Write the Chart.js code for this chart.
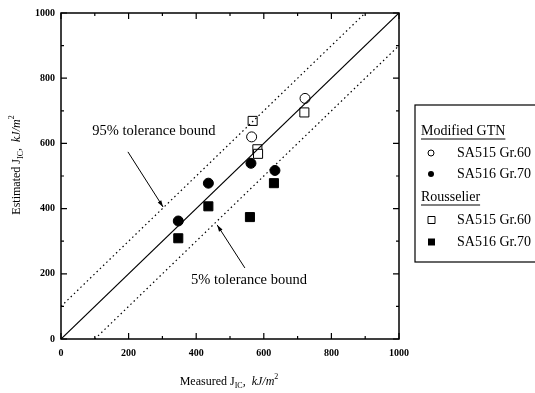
<!DOCTYPE html>
<html>
<head>
<meta charset="utf-8">
<script src="https://cdn.jsdelivr.net/npm/chart.js@4"></script>
<style>
  html, body { margin: 0; padding: 0; background: #fff; }
  #wrap { width: 535px; height: 393px; position: relative; }
</style>
</head>
<body>
<div id="wrap"><canvas id="jic-chart"></canvas></div>
<script>
// Measured vs estimated J_IC (kJ/m^2)
const gtn515X = [564, 722];
const gtn515Y = [620, 738];
const gtn516X = [347, 436, 562, 633];
const gtn516Y = [362, 478, 539, 517];
const rou515X = [567, 581, 583, 720];
const rou515Y = [669, 582, 568, 695];
const rou516X = [347, 436, 559, 630];
const rou516Y = [309, 407, 374, 478];
const tickValues = [0, 200, 400, 600, 800, 1000];

const toPts = (xs, ys) => xs.map((x, i) => ({ x: x, y: ys[i] }));

const serif = "'Liberation Serif', 'DejaVu Serif', serif";

// inward ticks on all four sides, frame, titles, annotations, legend
const extrasPlugin = {
  id: "extras",
  afterDraw(chart) {
    const ctx = chart.ctx;
    const xs = chart.scales.x;
    const ys = chart.scales.y;
    const a = chart.chartArea;
    ctx.save();
    ctx.strokeStyle = "#000";
    ctx.lineWidth = 1.5;
    ctx.strokeRect(a.left, a.top, a.right - a.left, a.bottom - a.top);
    ctx.lineWidth = 1.2;
    for (let v = 0; v <= 1000; v += 100) {
      const len = v % 200 === 0 ? 6 : 3;
      const px = xs.getPixelForValue(v);
      const py = ys.getPixelForValue(v);
      ctx.beginPath();
      ctx.moveTo(px, a.bottom); ctx.lineTo(px, a.bottom - len);
      ctx.moveTo(px, a.top); ctx.lineTo(px, a.top + len);
      ctx.moveTo(a.left, py); ctx.lineTo(a.left + len, py);
      ctx.moveTo(a.right, py); ctx.lineTo(a.right - len, py);
      ctx.stroke();
    }

    // axis titles with sub/superscripts
    const drawTitle = (parts, cx, cy, rot) => {
      ctx.save();
      ctx.translate(cx, cy);
      ctx.rotate(rot);
      let total = 0;
      parts.forEach(p => { ctx.font = p.font; total += ctx.measureText(p.t).width; });
      let x = -total / 2;
      ctx.textBaseline = "middle";
      ctx.fillStyle = "#000";
      parts.forEach(p => {
        ctx.font = p.font;
        ctx.fillText(p.t, x, p.dy || 0);
        x += ctx.measureText(p.t).width;
      });
      ctx.restore();
    };
    const titleParts = (word) => [
      { t: word + " J", font: "12px " + serif },
      { t: "IC", font: "8px " + serif, dy: 4 },
      { t: ",  ", font: "12px " + serif },
      { t: "kJ/m", font: "italic 12px " + serif },
      { t: "2", font: "8px " + serif, dy: -5 }
    ];
    drawTitle(titleParts("Measured"), 229, 382, 0);
    drawTitle(titleParts("Estimated"), 17, 165, -Math.PI / 2);

    // tolerance bound annotations
    const arrow = (x0, y0, x1, y1) => {
      const p0 = [xs.getPixelForValue(x0), ys.getPixelForValue(y0)];
      const p1 = [xs.getPixelForValue(x1), ys.getPixelForValue(y1)];
      ctx.beginPath();
      ctx.moveTo(p0[0], p0[1]);
      ctx.lineTo(p1[0], p1[1]);
      ctx.lineWidth = 1;
      ctx.stroke();
      const ang = Math.atan2(p1[1] - p0[1], p1[0] - p0[0]);
      ctx.beginPath();
      ctx.moveTo(p1[0], p1[1]);
      ctx.lineTo(p1[0] - 7 * Math.cos(ang - 0.3), p1[1] - 7 * Math.sin(ang - 0.3));
      ctx.lineTo(p1[0] - 7 * Math.cos(ang + 0.3), p1[1] - 7 * Math.sin(ang + 0.3));
      ctx.closePath();
      ctx.fillStyle = "#000";
      ctx.fill();
    };
    ctx.font = "14.5px " + serif;
    ctx.fillStyle = "#000";
    ctx.textAlign = "center";
    ctx.textBaseline = "middle";
    ctx.fillText("95% tolerance bound", xs.getPixelForValue(275), ys.getPixelForValue(636));
    ctx.fillText("5% tolerance bound", xs.getPixelForValue(556), ys.getPixelForValue(181));
    arrow(198, 574, 302, 405);
    arrow(544, 218, 462, 350);

    // legend box
    ctx.textAlign = "left";
    ctx.lineWidth = 1.2;
    ctx.strokeRect(415, 105, 140, 157);
    const rows = [
      { t: "Modified GTN", y: 131, head: true },
      { t: "SA515 Gr.60", y: 153, m: "circle", fill: false },
      { t: "SA516 Gr.70", y: 174, m: "circle", fill: true },
      { t: "Rousselier", y: 197, head: true },
      { t: "SA515 Gr.60", y: 220, m: "rect", fill: false },
      { t: "SA516 Gr.70", y: 242, m: "rect", fill: true }
    ];
    rows.forEach(r => {
      ctx.font = "14px " + serif;
      if (r.head) {
        ctx.fillText(r.t, 421, r.y);
        const w = ctx.measureText(r.t).width;
        ctx.beginPath();
        ctx.moveTo(421, r.y + 8); ctx.lineTo(421 + w, r.y + 8);
        ctx.lineWidth = 1;
        ctx.stroke();
      } else {
        ctx.fillText(r.t, 457, r.y);
        ctx.beginPath();
        if (r.m === "circle") ctx.arc(431, r.y, 3, 0, Math.PI * 2);
        else ctx.rect(428, r.y - 3.5, 7, 7);
        ctx.lineWidth = 1;
        if (r.fill) ctx.fill(); else ctx.stroke();
      }
    });
    ctx.restore();
  }
};

const markerStyle = (style, filled, r) => ({
  type: "scatter",
  pointStyle: style,
  pointRadius: r,
  pointHoverRadius: r,
  pointBackgroundColor: filled ? "#000" : "#fff",
  pointBorderColor: "#000",
  pointBorderWidth: 1,
  showLine: false
});

const refLine = (pts, dashed, w) => ({
  type: "line",
  data: pts,
  borderColor: "#000",
  borderWidth: w,
  borderDash: dashed ? [1.5, 3] : [],
  pointRadius: 0,
  fill: false
});

const tickFont = { family: serif, size: 10, weight: "bold" };

const jicCtx = document.getElementById("jic-chart").getContext("2d");
new Chart(jicCtx, {
  data: {
    datasets: [
      refLine([{ x: 0, y: 0 }, { x: 1000, y: 1000 }], false, 1.2),
      refLine([{ x: 0, y: 100 }, { x: 900, y: 1000 }], true, 1.2),
      refLine([{ x: 100, y: 0 }, { x: 1000, y: 900 }], true, 1.2),
      Object.assign(markerStyle("circle", false, 5), { label: "GTN SA515 Gr.60", data: toPts(gtn515X, gtn515Y) }),
      Object.assign(markerStyle("circle", true, 5), { label: "GTN SA516 Gr.70", data: toPts(gtn516X, gtn516Y) }),
      Object.assign(markerStyle("rect", false, 6.4), { label: "Rousselier SA515 Gr.60", data: toPts(rou515X, rou515Y) }),
      Object.assign(markerStyle("rect", true, 6.4), { label: "Rousselier SA516 Gr.70", data: toPts(rou516X, rou516Y) })
    ]
  },
  options: {
    responsive: true,
    maintainAspectRatio: false,
    animation: false,
    layout: { padding: { top: 13, right: 136, left: 0, bottom: 0 } },
    plugins: {
      legend: { display: false },
      tooltip: { enabled: false }
    },
    scales: {
      x: {
        type: "linear",
        min: 0,
        max: 1000,
        afterFit: (s) => { s.height = 54; },
        afterBuildTicks: (s) => { s.ticks = tickValues.map(v => ({ value: v })); },
        grid: { display: false, drawTicks: false },
        border: { display: false },
        ticks: { padding: 8, color: "#000", font: tickFont, callback: (v) => String(v) }
      },
      y: {
        type: "linear",
        min: 0,
        max: 1000,
        afterFit: (s) => { s.width = 61; },
        afterBuildTicks: (s) => { s.ticks = tickValues.map(v => ({ value: v })); },
        grid: { display: false, drawTicks: false },
        border: { display: false },
        ticks: { padding: 6, color: "#000", font: tickFont, callback: (v) => String(v) }
      }
    }
  },
  plugins: [extrasPlugin]
});
</script>
</body>
</html>
